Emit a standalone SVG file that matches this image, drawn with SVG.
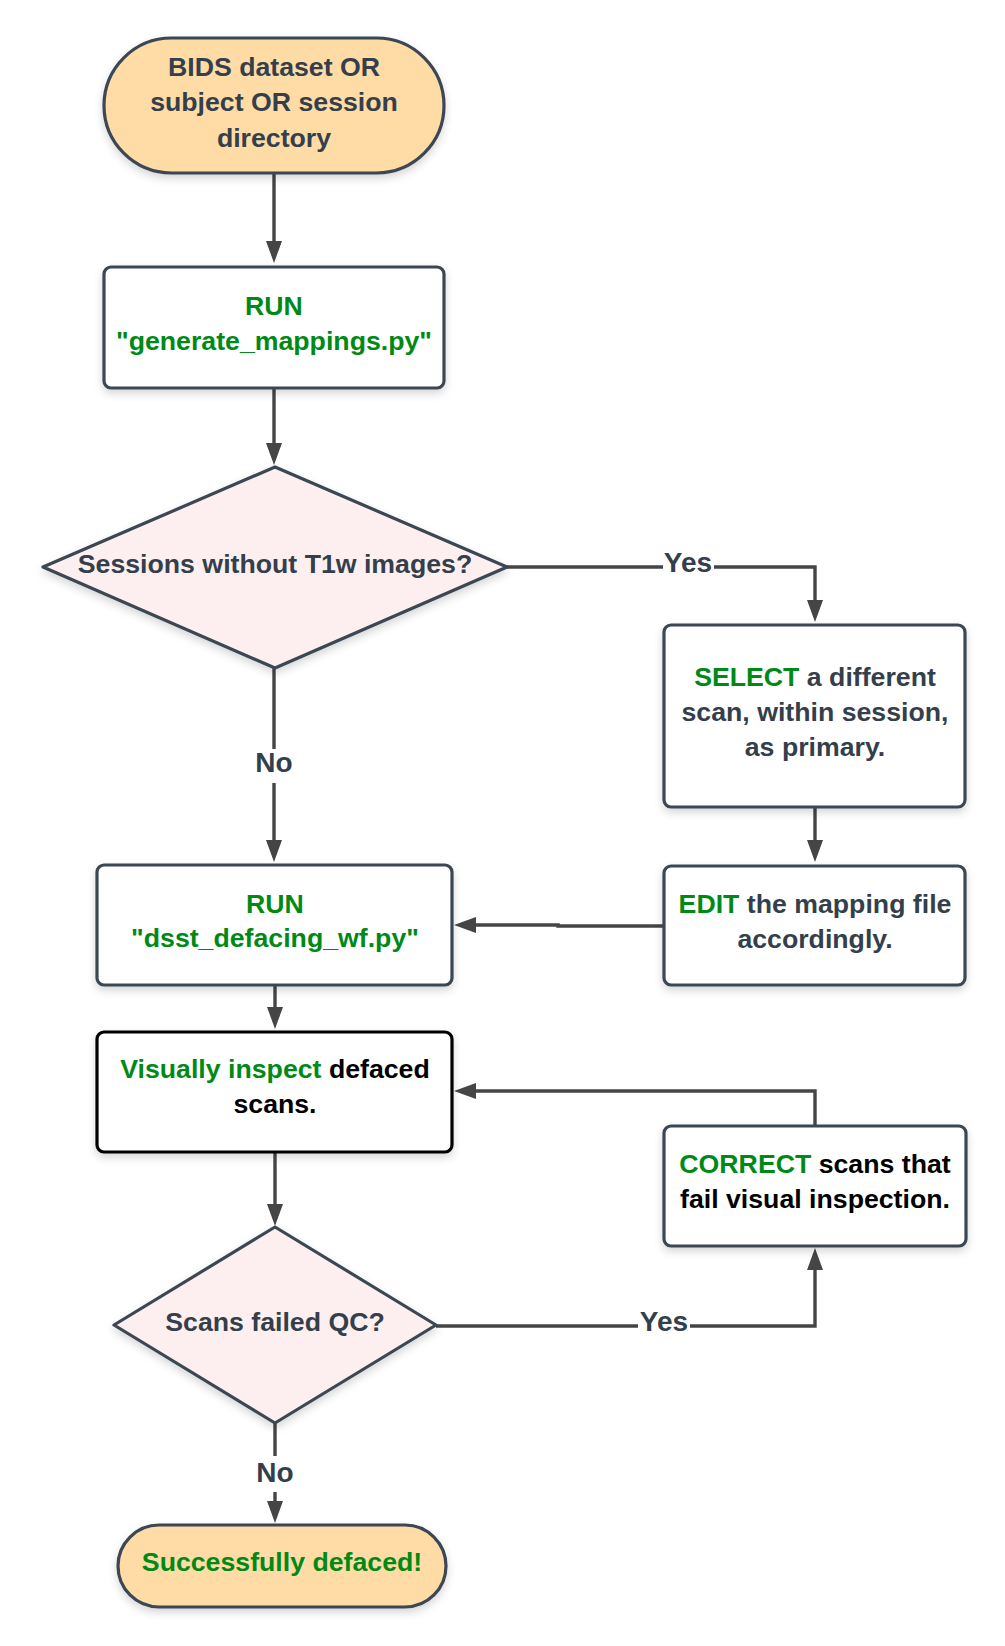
<svg xmlns="http://www.w3.org/2000/svg" width="1005" height="1646" viewBox="0 0 1005 1646">
  <defs>
    <style>
      .node { stroke: #3b4652; stroke-width: 3.2; stroke-linejoin: round; filter: url(#shadow); }
      .term { fill: #ffdba6; }
      .box { fill: #ffffff; }
      .box-dark { fill: #ffffff; stroke: #000000; }
      .dec { fill: #fdefef; }
      text { font-family: "Liberation Sans", Arial, sans-serif; font-weight: bold; font-size: 26.7px; text-anchor: middle; fill: #343f4b; }
      .lbl { font-size: 28px; }
      .g { fill: #008a15; }
      .k { fill: #000000; }
      .conn { fill: none; stroke: #454545; stroke-width: 3.4; stroke-linejoin: miter; }
      .lblbg { fill: #ffffff; }
    </style>
    <filter id="shadow" x="-10%" y="-10%" width="120%" height="130%">
      <feDropShadow dx="0" dy="4" stdDeviation="4" flood-color="#000000" flood-opacity="0.16"/>
    </filter>
    <marker id="arrow" markerUnits="userSpaceOnUse" markerWidth="22" markerHeight="16" refX="10" refY="8" orient="auto">
      <path d="M0,0 L22,8 L0,16 Z" fill="#454545"/>
    </marker>
  </defs>

  <!-- connectors -->
  <g id="connectors">
    <path class="conn" d="M274,173 V251" marker-end="url(#arrow)"/>
    <path class="conn" d="M274,388 V453" marker-end="url(#arrow)"/>
    <path class="conn" d="M507,567 H815 V610" marker-end="url(#arrow)"/>
    <path class="conn" d="M274,668 V850" marker-end="url(#arrow)"/>
    <path class="conn" d="M815,807 V850" marker-end="url(#arrow)"/>
    <path class="conn" d="M664,926 H558 V925 H466" marker-end="url(#arrow)"/>
    <path class="conn" d="M275,985 V1017" marker-end="url(#arrow)"/>
    <path class="conn" d="M815,1126 V1091 H466" marker-end="url(#arrow)"/>
    <path class="conn" d="M275,1152 V1214" marker-end="url(#arrow)"/>
    <path class="conn" d="M436,1326 H815 V1260" marker-end="url(#arrow)"/>
    <path class="conn" d="M275,1423 V1511" marker-end="url(#arrow)"/>
    <!-- connector labels -->
    <rect class="lblbg" x="663" y="550" width="51" height="30"/>
    <text class="lbl" x="688" y="572">Yes</text>
    <rect class="lblbg" x="253" y="749" width="42" height="34"/>
    <text class="lbl" x="274" y="772">No</text>
    <rect class="lblbg" x="638" y="1309" width="52" height="30"/>
    <text class="lbl" x="664" y="1331">Yes</text>
    <rect class="lblbg" x="254" y="1456" width="42" height="36"/>
    <text class="lbl" x="275" y="1482">No</text>
  </g>

  <g id="start">
    <rect class="node term" x="104" y="38" width="340" height="135" rx="67.5"/>
    <text x="274" y="76">BIDS dataset OR</text>
    <text x="274" y="111">subject OR session</text>
    <text x="274" y="147">directory</text>
  </g>

  <g id="run-generate-mappings">
    <rect class="node box" x="104" y="267" width="340" height="121" rx="7"/>
    <text class="g" x="274" y="315">RUN</text>
    <text class="g" x="274" y="350">"generate_mappings.py"</text>
  </g>

  <g id="sessions-without-t1w">
    <polygon class="node dec" points="275,467 507,567 275,668 43,567"/>
    <text x="275" y="573">Sessions without T1w images?</text>
  </g>

  <g id="select-scan">
    <rect class="node box" x="664" y="625" width="301" height="182" rx="7"/>
    <text x="815" y="686"><tspan class="g">SELECT</tspan> a different</text>
    <text x="815" y="721">scan, within session,</text>
    <text x="815" y="756">as primary.</text>
  </g>

  <g id="edit-mapping">
    <rect class="node box" x="664" y="866" width="301" height="119" rx="7"/>
    <text x="815" y="913"><tspan class="g">EDIT</tspan> the mapping file</text>
    <text x="815" y="948">accordingly.</text>
  </g>

  <g id="run-defacing">
    <rect class="node box" x="97" y="865" width="355" height="120" rx="7"/>
    <text class="g" x="275" y="913">RUN</text>
    <text class="g" x="275" y="947">"dsst_defacing_wf.py"</text>
  </g>

  <g id="visual-inspect">
    <rect class="node box-dark" x="97" y="1032" width="355" height="120" rx="7"/>
    <text class="k" x="275" y="1078"><tspan class="g">Visually inspect</tspan> defaced</text>
    <text class="k" x="275" y="1113">scans.</text>
  </g>

  <g id="correct-scans">
    <rect class="node box" x="664" y="1126" width="302" height="120" rx="7"/>
    <text class="k" x="815" y="1173"><tspan class="g">CORRECT</tspan> scans that</text>
    <text class="k" x="815" y="1208">fail visual inspection.</text>
  </g>

  <g id="scans-failed-qc">
    <polygon class="node dec" points="275,1227 436,1325 275,1423 114,1325"/>
    <text x="275" y="1331">Scans failed QC?</text>
  </g>

  <g id="done">
    <rect class="node term" x="118" y="1525" width="328" height="82" rx="41"/>
    <text class="g" x="282" y="1571">Successfully defaced!</text>
  </g>
</svg>
